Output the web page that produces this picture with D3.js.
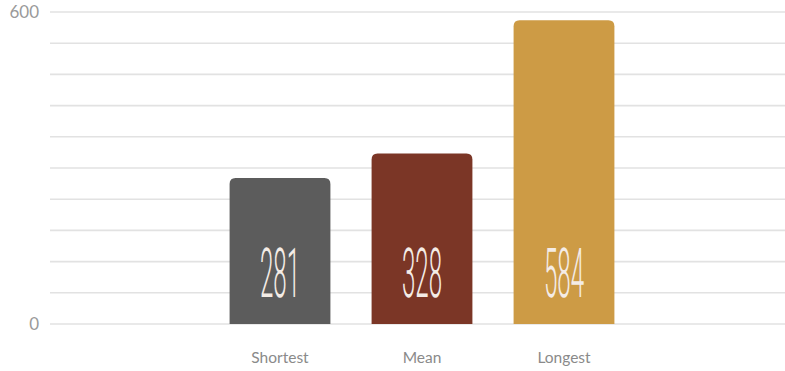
<!DOCTYPE html>
<html>
<head>
<meta charset="utf-8">
<script src="https://cdn.jsdelivr.net/npm/d3@7"></script>
<style>
  body { margin: 0; background: #fff; }
  svg { display: block; }
</style>
</head>
<body>
<svg width="785" height="371"></svg>
<script>
// chart data
var categories = ['Shortest', 'Mean', 'Longest'];
var values = [281, 328, 584];
var colors = ['#5c5c5c', '#7b3626', '#cd9b45'];
var tickValues = [0, 60, 120, 180, 240, 300, 360, 420, 480, 540, 600];
var tickLabels = [0, 600];

var svg = d3.select('svg');
var svgWidth = +svg.attr('width');

var padding = {t: 12, r: 0, b: 47, l: 50};
var plotBottom = 324;

var yScale = d3.scaleLinear()
    .domain([0, 600])
    .range([plotBottom, padding.t]);

// band scale over the middle of the plot
var xScale = d3.scaleBand()
    .domain(categories)
    .range([209, 635])
    .paddingInner(0.29)
    .paddingOuter(0.145);

// gridlines
svg.append('g')
    .selectAll('line')
    .data(tickValues)
    .enter()
    .append('line')
    .attr('x1', padding.l)
    .attr('x2', svgWidth)
    .attr('y1', function(d) { return yScale(d); })
    .attr('y2', function(d) { return yScale(d); })
    .attr('stroke', '#e2e2e2')
    .attr('stroke-width', 1.6);

// y labels (only 0 and 600)
svg.append('g')
    .selectAll('text')
    .data(tickLabels)
    .enter()
    .append('text')
    .attr('x', 39)
    .attr('y', function(d) { return yScale(d); })
    .attr('dy', '0.35em')
    .attr('text-anchor', 'end')
    .attr('font-family', 'Lato, "Open Sans", sans-serif')
    .attr('font-size', 17)
    .attr('fill', '#9a9a9a')
    .text(function(d) { return d; });

var data = categories.map(function(c, i) {
    return {cat: c, value: values[i], color: colors[i]};
});

// bars: rounded top corners only
function barPath(x, y, w, h, r) {
    return 'M' + x + ',' + (y + h) +
        'V' + (y + r) +
        'Q' + x + ',' + y + ' ' + (x + r) + ',' + y +
        'H' + (x + w - r) +
        'Q' + (x + w) + ',' + y + ' ' + (x + w) + ',' + (y + r) +
        'V' + (y + h) + 'Z';
}

var bars = svg.append('g')
    .selectAll('.bar')
    .data(data)
    .enter()
    .append('g')
    .attr('class', 'bar');

bars.append('path')
    .attr('d', function(d) {
        var y = yScale(d.value);
        return barPath(xScale(d.cat), y, xScale.bandwidth(), plotBottom - y, 6);
    })
    .attr('fill', function(d) { return d.color; });

// big condensed value labels
bars.append('text')
    .attr('transform', function(d) {
        return 'translate(' + [xScale(d.cat) + xScale.bandwidth() / 2, 297] + ') scale(0.35,1)';
    })
    .attr('text-anchor', 'middle')
    .attr('font-family', 'Roboto, sans-serif')
    .attr('font-weight', 300)
    .attr('font-size', 69)
    .attr('fill', '#f4ece6')
    .style('text-rendering', 'geometricPrecision')
    .text(function(d) { return d.value; });

// category labels
svg.append('g')
    .selectAll('text')
    .data(categories)
    .enter()
    .append('text')
    .attr('x', function(d) { return xScale(d) + xScale.bandwidth() / 2; })
    .attr('y', 363)
    .attr('text-anchor', 'middle')
    .attr('font-family', 'Lato, "Open Sans", sans-serif')
    .attr('font-size', 15.5)
    .attr('fill', '#8a8a8a')
    .text(function(d) { return d; });
</script>
</body>
</html>
